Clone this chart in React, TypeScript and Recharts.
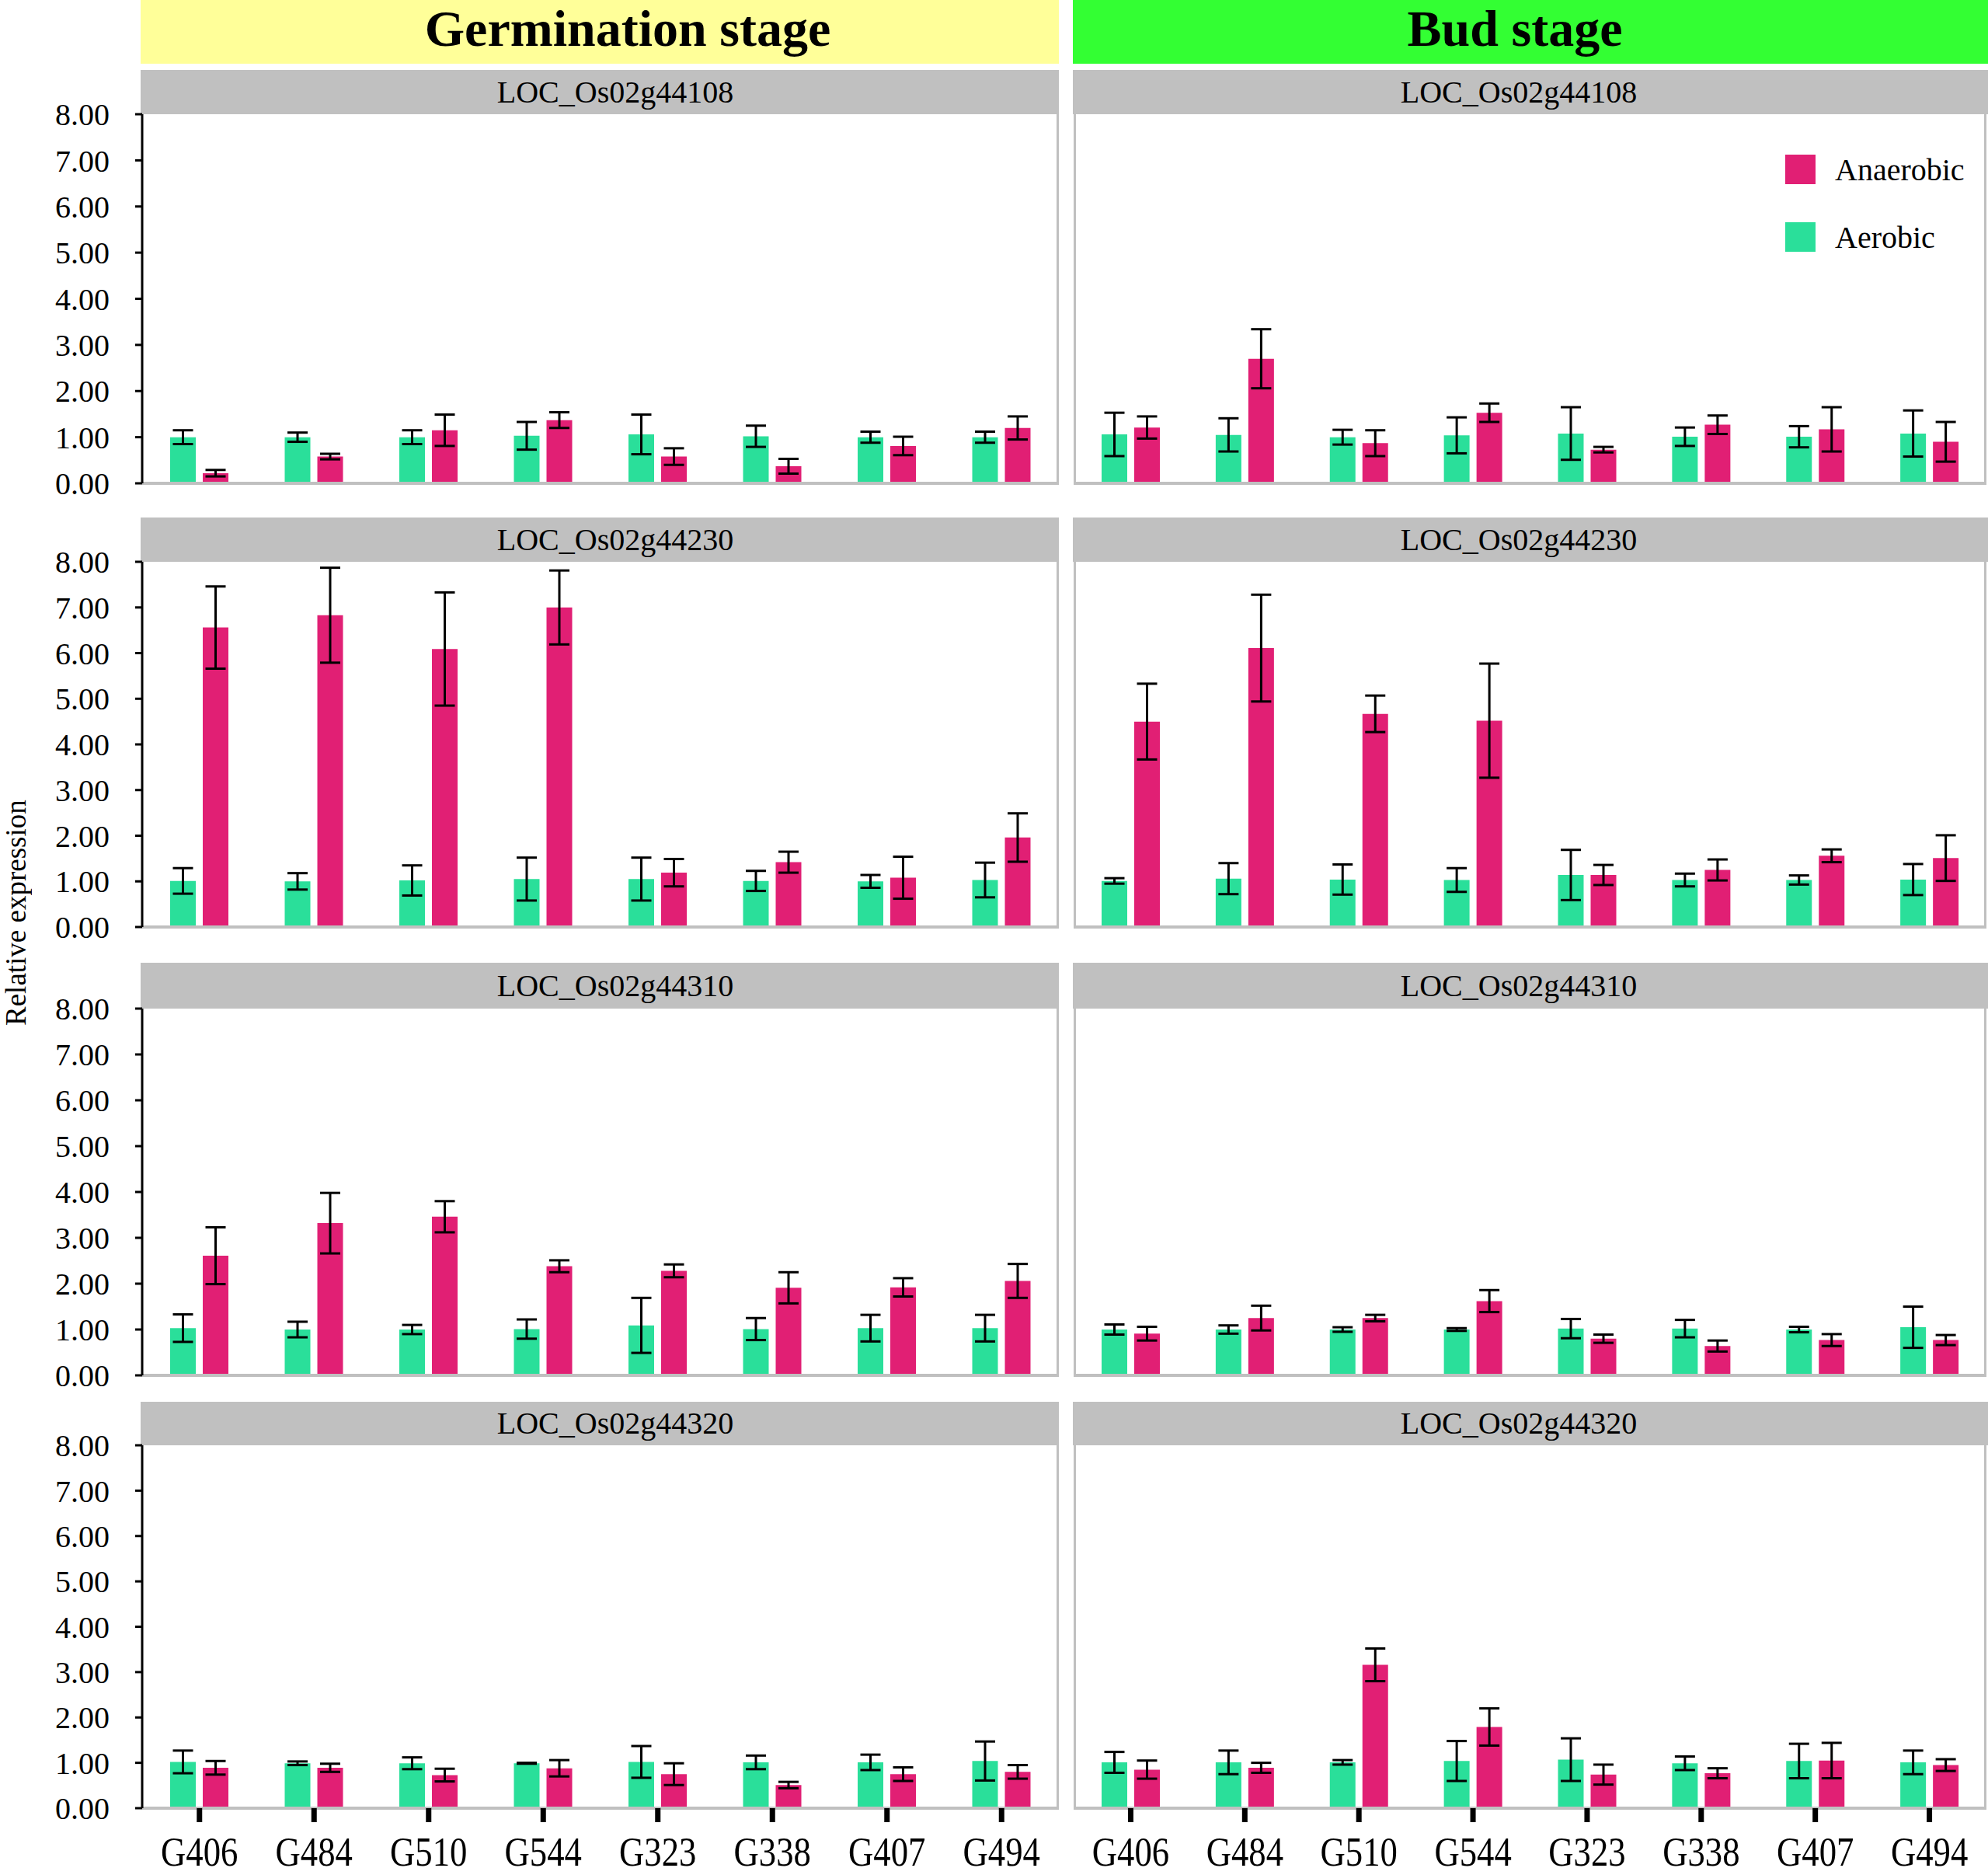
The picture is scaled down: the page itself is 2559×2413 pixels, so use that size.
import React from "react";
import { BarChart, Bar, XAxis, YAxis, ErrorBar, Legend } from "recharts";

const lines = ["G406", "G484", "G510", "G544", "G323", "G338", "G407", "G494"];
const genes = ["LOC_Os02g44108", "LOC_Os02g44230", "LOC_Os02g44310", "LOC_Os02g44320"];
const stages = ["Germination stage", "Bud stage"];
const yTicks = [0, 1, 2, 3, 4, 5, 6, 7, 8];

// germination stage, one row per gene (same order as genes)
const germAerobic = [
  [1.0, 1.0, 1.0, 1.03, 1.06, 1.02, 1.0, 1.0],
  [1.01, 1.0, 1.02, 1.05, 1.05, 1.01, 1.0, 1.03],
  [1.03, 1.0, 1.0, 1.01, 1.09, 1.01, 1.03, 1.03],
  [1.02, 0.99, 0.99, 0.99, 1.02, 1.01, 1.01, 1.04],
];
const germAerobicSd = [
  [0.15, 0.1, 0.15, 0.3, 0.43, 0.23, 0.12, 0.12],
  [0.28, 0.18, 0.33, 0.47, 0.47, 0.22, 0.14, 0.38],
  [0.3, 0.17, 0.1, 0.21, 0.6, 0.24, 0.29, 0.29],
  [0.25, 0.04, 0.13, 0.01, 0.35, 0.15, 0.17, 0.43],
];
const germAnaerobic = [
  [0.22, 0.58, 1.15, 1.37, 0.58, 0.37, 0.81, 1.2],
  [6.56, 6.83, 6.09, 7.0, 1.19, 1.42, 1.08, 1.96],
  [2.61, 3.32, 3.46, 2.38, 2.28, 1.91, 1.92, 2.06],
  [0.89, 0.89, 0.73, 0.88, 0.75, 0.51, 0.75, 0.8],
];
const germAnaerobicSd = [
  [0.07, 0.06, 0.34, 0.17, 0.18, 0.16, 0.2, 0.25],
  [0.9, 1.04, 1.24, 0.81, 0.3, 0.23, 0.46, 0.53],
  [0.62, 0.66, 0.34, 0.13, 0.14, 0.34, 0.2, 0.37],
  [0.15, 0.09, 0.14, 0.18, 0.24, 0.07, 0.15, 0.15],
];

// bud stage
const budAerobic = [
  [1.06, 1.05, 1.0, 1.04, 1.08, 1.01, 1.01, 1.08],
  [1.01, 1.06, 1.04, 1.03, 1.14, 1.03, 1.03, 1.04],
  [1.0, 1.0, 1.0, 1.0, 1.02, 1.02, 1.0, 1.05],
  [1.01, 1.01, 1.01, 1.04, 1.07, 0.99, 1.04, 1.01],
];
const budAerobicSd = [
  [0.47, 0.36, 0.16, 0.39, 0.57, 0.2, 0.23, 0.5],
  [0.06, 0.34, 0.33, 0.26, 0.55, 0.14, 0.1, 0.34],
  [0.11, 0.09, 0.05, 0.03, 0.21, 0.19, 0.06, 0.45],
  [0.23, 0.26, 0.05, 0.44, 0.47, 0.15, 0.38, 0.26],
];
const budAnaerobic = [
  [1.21, 2.7, 0.87, 1.53, 0.73, 1.27, 1.17, 0.9],
  [4.5, 6.11, 4.67, 4.52, 1.14, 1.25, 1.56, 1.51],
  [0.91, 1.25, 1.25, 1.62, 0.8, 0.64, 0.77, 0.77],
  [0.85, 0.89, 3.16, 1.79, 0.74, 0.77, 1.05, 0.95],
];
const budAnaerobicSd = [
  [0.24, 0.64, 0.28, 0.2, 0.06, 0.2, 0.48, 0.43],
  [0.83, 1.17, 0.4, 1.25, 0.22, 0.23, 0.14, 0.5],
  [0.15, 0.27, 0.07, 0.24, 0.09, 0.12, 0.13, 0.11],
  [0.2, 0.11, 0.36, 0.41, 0.22, 0.11, 0.39, 0.13],
];

const AEROBIC = "#2adf9a";
const ANAEROBIC = "#e11f74";
const FRAME = "#c0c0c0";
const FONT = "'Liberation Serif', 'Times New Roman', serif";

// layout (pixels)
const HEADER_TOP = [90, 666, 1239, 1804];
const PLOT_TOP = [147, 723, 1298, 1860];
const PLOT_BOTTOM = [622, 1193, 1770, 2327];
const COLS = [
  { headerLeft: 181, headerRight: 1363, plotLeft: 183, plotRight: 1363, bg: "#ffff99", titleShift: 36, geneShift: 20 },
  { headerLeft: 1381, headerRight: 2559, plotLeft: 1382, plotRight: 2557, bg: "#33ff33", titleShift: -20, geneShift: -15 },
];

const LineTick = ({ x, y, payload }: any) => (
  <text
    transform={`translate(${x},${y + 30}) scale(0.86,1)`}
    textAnchor="middle"
    fontSize={52}
    fontFamily={FONT}
    fill="#000"
  >
    {payload.value}
  </text>
);

const LegendBox = ({ payload }: any) => {
  const items = [...(payload || [])].reverse();
  return (
    <div style={{ fontFamily: FONT, fontSize: 40, color: "#000" }}>
      {items.map((it: any) => (
        <div key={it.value} style={{ display: "flex", alignItems: "center", height: 38, marginBottom: 49 }}>
          <div style={{ width: 39, height: 38, background: it.color, marginRight: 25 }} />
          <span>{it.value}</span>
        </div>
      ))}
    </div>
  );
};

function Panel({ stage, row }: { stage: number; row: number }) {
  const col = COLS[stage];
  const isGerm = stage === 0;
  const last = row === 3;
  const aer = isGerm ? germAerobic : budAerobic;
  const aerSd = isGerm ? germAerobicSd : budAerobicSd;
  const ana = isGerm ? germAnaerobic : budAnaerobic;
  const anaSd = isGerm ? germAnaerobicSd : budAnaerobicSd;
  const data = lines.map((line, i) => ({
    line,
    aerobic: aer[row][i],
    aerobicSd: aerSd[row][i],
    anaerobic: ana[row][i],
    anaerobicSd: anaSd[row][i],
  }));

  const yW = isGerm ? 183 : 0;
  const chartLeft = col.plotLeft - yW;
  const mTop = 30;
  const xH = last ? 84 : 30;
  const plotH = PLOT_BOTTOM[row] - PLOT_TOP[row];
  const width = col.plotRight - chartLeft;
  const height = mTop + plotH + xH;
  const headH = PLOT_TOP[row] - HEADER_TOP[row];

  return (
    <>
      <div
        style={{
          position: "absolute",
          left: col.headerLeft,
          top: HEADER_TOP[row],
          width: col.headerRight - col.headerLeft,
          height: headH,
          background: FRAME,
          fontSize: 40,
          lineHeight: `${headH}px`,
          color: "#000",
        }}
      >
        <div style={{ position: "absolute", left: "50%", top: 0, transform: `translateX(calc(-50% + ${col.geneShift}px))`, whiteSpace: "nowrap" }}>
          {genes[row]}
        </div>
      </div>
      <div
        style={{
          position: "absolute",
          left: col.plotLeft,
          top: PLOT_TOP[row],
          width: col.plotRight - col.plotLeft,
          height: plotH,
          boxSizing: "border-box",
          borderRight: `3px solid ${FRAME}`,
          borderLeft: isGerm ? "none" : `3px solid ${FRAME}`,
        }}
      />
      <div style={{ position: "absolute", left: chartLeft, top: PLOT_TOP[row] - mTop }}>
        <BarChart
          width={width}
          height={height}
          data={data}
          margin={{ top: mTop, right: 0, bottom: 0, left: 0 }}
          barSize={33}
          barGap={9}
        >
          <XAxis
            dataKey="line"
            height={xH}
            axisLine={{ stroke: FRAME, strokeWidth: 4 }}
            tickLine={last ? { stroke: "#000", strokeWidth: 7 } : false}
            tickSize={18}
            tickMargin={26}
            tick={last ? <LineTick /> : false}
            interval={0}
          />
          <YAxis
            hide={!isGerm}
            width={yW}
            domain={[0, 8]}
            ticks={yTicks}
            interval={0}
            tickFormatter={(v: number) => v.toFixed(2)}
            axisLine={{ stroke: "#000", strokeWidth: 3 }}
            tickLine={{ stroke: "#000", strokeWidth: 3 }}
            tickSize={9}
            tickMargin={33}
            tick={{ fontSize: 40, fill: "#000", fontFamily: FONT }}
          />
          <Bar dataKey="aerobic" name="Aerobic" fill={AEROBIC} isAnimationActive={false}>
            <ErrorBar dataKey="aerobicSd" width={13} strokeWidth={3} stroke="#000" direction="y" isAnimationActive={false} />
          </Bar>
          <Bar dataKey="anaerobic" name="Anaerobic" fill={ANAEROBIC} isAnimationActive={false}>
            <ErrorBar dataKey="anaerobicSd" width={13} strokeWidth={3} stroke="#000" direction="y" isAnimationActive={false} />
          </Bar>
          {!isGerm && row === 0 && (
            <Legend
              layout="vertical"
              align="center"
              verticalAlign="middle"
              wrapperStyle={{ left: 916, top: 82, width: 260 }}
              content={<LegendBox />}
            />
          )}
        </BarChart>
      </div>
    </>
  );
}

export default function App() {
  return (
    <div
      style={{
        position: "absolute",
        left: 0,
        top: 0,
        width: 2559,
        height: 2413,
        overflow: "hidden",
        background: "#fff",
        fontFamily: FONT,
      }}
    >
      <style>{"body{margin:0;overflow:hidden}"}</style>
      {COLS.map((col, s) => (
        <div
          key={stages[s]}
          style={{
            position: "absolute",
            left: col.headerLeft,
            top: 0,
            width: col.headerRight - col.headerLeft,
            height: 82,
            background: col.bg,
            fontWeight: "bold",
            fontSize: 66,
            lineHeight: "74px",
            color: "#000",
          }}
        >
          <div style={{ position: "absolute", left: "50%", top: 0, transform: `translateX(calc(-50% + ${col.titleShift}px))`, whiteSpace: "nowrap" }}>
            {stages[s]}
          </div>
        </div>
      ))}
      <div
        style={{
          position: "absolute",
          left: 0,
          top: 1000,
          width: 42,
          height: 350,
          writingMode: "vertical-rl",
          transform: "rotate(180deg)",
          textAlign: "center",
          lineHeight: "42px",
          fontSize: 37,
          color: "#000",
          whiteSpace: "nowrap",
        }}
      >
        Relative expression
      </div>
      {[0, 1].map((s) => [0, 1, 2, 3].map((r) => <Panel key={`${s}-${r}`} stage={s} row={r} />))}
    </div>
  );
}
